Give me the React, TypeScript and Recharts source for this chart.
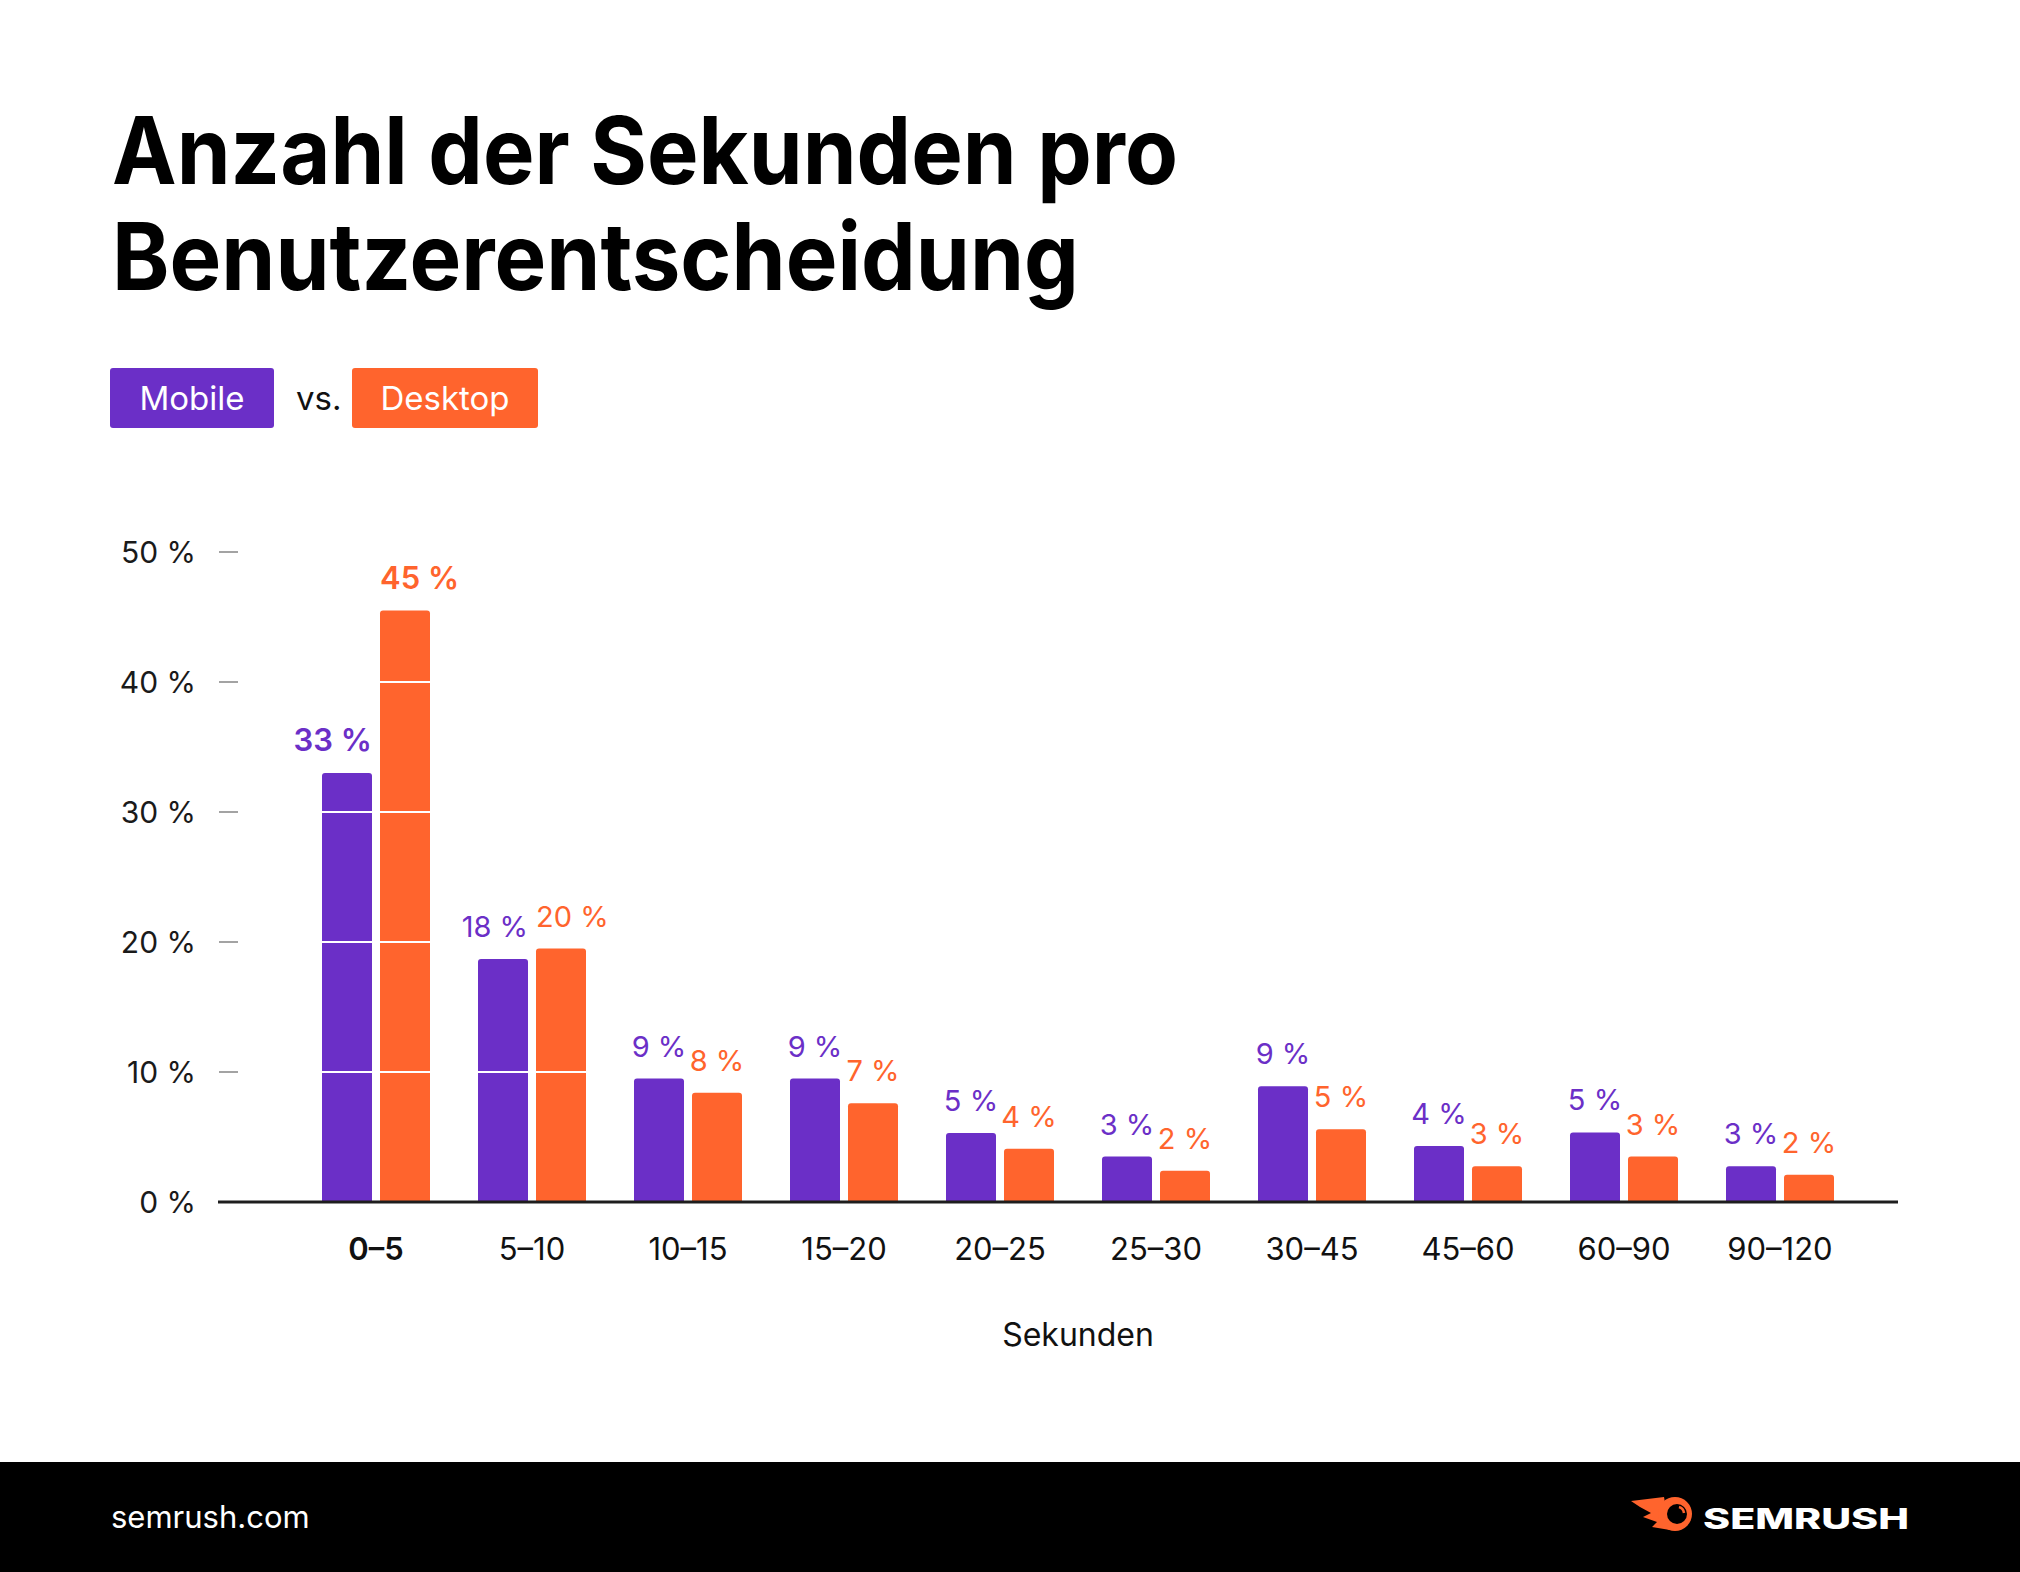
import React from "react";
import { BarChart, Bar, XAxis, YAxis, LabelList } from "recharts";

const categories = ["0–5", "5–10", "10–15", "15–20", "20–25", "25–30", "30–45", "45–60", "60–90", "90–120"];
const mobileValues = [33.0, 18.7, 9.5, 9.5, 5.3, 3.5, 8.9, 4.3, 5.35, 2.75];
const desktopValues = [45.5, 19.5, 8.4, 7.6, 4.1, 2.4, 5.6, 2.75, 3.5, 2.1];
const mobileLabels = ["33 %", "18 %", "9 %", "9 %", "5 %", "3 %", "9 %", "4 %", "5 %", "3 %"];
const desktopLabels = ["45 %", "20 %", "8 %", "7 %", "4 %", "2 %", "5 %", "3 %", "3 %", "2 %"];
const yTicks = [0, 10, 20, 30, 40, 50];
const gridSteps = [10, 20, 30, 40];

const PURPLE = "#6B2FC7";
const ORANGE = "#FF642D";
const FONT = "Inter, 'Noto Sans', sans-serif";

const data = categories.map((name, i) => ({
  name,
  mobile: mobileValues[i],
  desktop: desktopValues[i],
}));

// bar with rounded top and the white grid lines cut through it
function GridBar(props: any) {
  const { x, y, width: w, height: h, fill } = props;
  let v = props.value;
  if (Array.isArray(v)) v = v[1] - v[0];
  if (!h || h <= 0) return null;
  const r = 3;
  const d = `M${x},${y + h} L${x},${y + r} Q${x},${y} ${x + r},${y} L${x + w - r},${y} Q${x + w},${y} ${x + w},${y + r} L${x + w},${y + h} Z`;
  return (
    <g>
      <path d={d} fill={fill} />
      {gridSteps
        .filter((t) => t < v)
        .map((t) => {
          const ly = y + h - (t / v) * h;
          return <line key={t} x1={x} x2={x + w} y1={ly} y2={ly} stroke="#ffffff" strokeWidth={2} />;
        })}
    </g>
  );
}

function makeLabel(labels: string[], color: string, side: "left" | "right") {
  return (props: any) => {
    const { x, y, width, index } = props;
    const text = labels[index];
    const bold = index === 0;
    let tx = x + width / 2;
    let anchor: "middle" | "start" | "end" = "middle";
    if (text.length > 3) {
      if (side === "left") {
        tx = x + width;
        anchor = "end";
      } else {
        tx = x;
        anchor = "start";
      }
    }
    return (
      <text
        x={tx}
        y={y - 22}
        textAnchor={anchor}
        fill={color}
        fontSize={bold ? 31 : 29}
        fontWeight={bold ? 600 : 400}
        fontFamily={FONT}
      >
        {text}
      </text>
    );
  };
}

function XTick(props: any) {
  const { x, y, payload, index } = props;
  return (
    <text
      x={x}
      y={y + 58}
      textAnchor="middle"
      fontSize={31}
      fontWeight={index === 0 ? 600 : 400}
      fill="#111"
      fontFamily={FONT}
    >
      {payload.value}
    </text>
  );
}

function YTick(props: any) {
  const { x, y, payload } = props;
  return (
    <g>
      <text x={x} y={y + 11} textAnchor="end" fontSize={30} fill="#1a1a1a" fontFamily={FONT}>
        {payload.value} %
      </text>
      {payload.value > 0 && (
        <line x1={x + 23} x2={x + 42} y1={y} y2={y} stroke="#a3a3a3" strokeWidth={2} />
      )}
    </g>
  );
}

export default function App() {
  return (
    <div style={{ position: "absolute", left: 0, top: 0, width: 2020, height: 1572, background: "#fff" }}>
      <div style={{ position: "absolute", left: 0, top: 0 }}>
        <BarChart
          width={2020}
          height={1572}
          data={data}
          margin={{ top: 552, right: 122, bottom: 310, left: 0 }}
          barSize={50}
          barGap={8}
        >
          <XAxis
            dataKey="name"
            height={60}
            interval={0}
            padding={{ left: 80, right: 40 }}
            tickLine={false}
            tickSize={0}
            tickMargin={0}
            axisLine={{ stroke: "#1e1e1e", strokeWidth: 3 }}
            tick={<XTick />}
          />
          <YAxis
            width={218}
            domain={[0, 50]}
            ticks={yTicks}
            axisLine={false}
            tickLine={false}
            tickSize={0}
            tickMargin={22}
            tick={<YTick />}
          />
          <Bar dataKey="mobile" fill={PURPLE} shape={<GridBar />} isAnimationActive={false}>
            <LabelList dataKey="mobile" content={makeLabel(mobileLabels, PURPLE, "left")} />
          </Bar>
          <Bar dataKey="desktop" fill={ORANGE} shape={<GridBar />} isAnimationActive={false}>
            <LabelList dataKey="desktop" content={makeLabel(desktopLabels, ORANGE, "right")} />
          </Bar>
        </BarChart>
      </div>
      <svg
        width={2020}
        height={1572}
        style={{ position: "absolute", left: 0, top: 0, pointerEvents: "none" }}
        fontFamily={FONT}
      >
        <text x={112} y={184} fontSize={93} fontWeight={700} fill="#000" textLength={1066} lengthAdjust="spacingAndGlyphs">
          Anzahl der Sekunden pro
        </text>
        <text x={112} y={290} fontSize={93} fontWeight={700} fill="#000" textLength={967} lengthAdjust="spacingAndGlyphs">
          Benutzerentscheidung
        </text>

        <rect x={110} y={368} width={164} height={60} rx={3} fill={PURPLE} />
        <text x={192} y={410} fontSize={33} fill="#fff" textAnchor="middle">Mobile</text>
        <text x={296} y={410} fontSize={33} fill="#111">vs.</text>
        <rect x={352} y={368} width={186} height={60} rx={3} fill={ORANGE} />
        <text x={445} y={410} fontSize={33} fill="#fff" textAnchor="middle">Desktop</text>

        <text x={1078} y={1346} fontSize={32} fill="#111" textAnchor="middle">Sekunden</text>

        <rect x={0} y={1462} width={2020} height={110} fill="#000" />
        <text x={111} y={1528} fontSize={31} fill="#fff">semrush.com</text>
        <path
          d="M1631,1501 L1664,1497 L1670,1530 L1652,1527 L1657,1522 L1643,1517 L1651,1513 L1640,1507 Z"
          fill={ORANGE}
        />
        <circle cx={1675} cy={1514} r={17} fill={ORANGE} />
        <circle cx={1677} cy={1514} r={10} fill="#000" />
        <path d="M1679,1507 A7,7 0 0 1 1684,1513" stroke={ORANGE} strokeWidth={2.5} fill="none" />
        <text x={1703} y={1529} fontSize={28} fontWeight={800} fill="#fff" textLength={206} lengthAdjust="spacingAndGlyphs">
          SEMRUSH
        </text>
      </svg>
    </div>
  );
}
